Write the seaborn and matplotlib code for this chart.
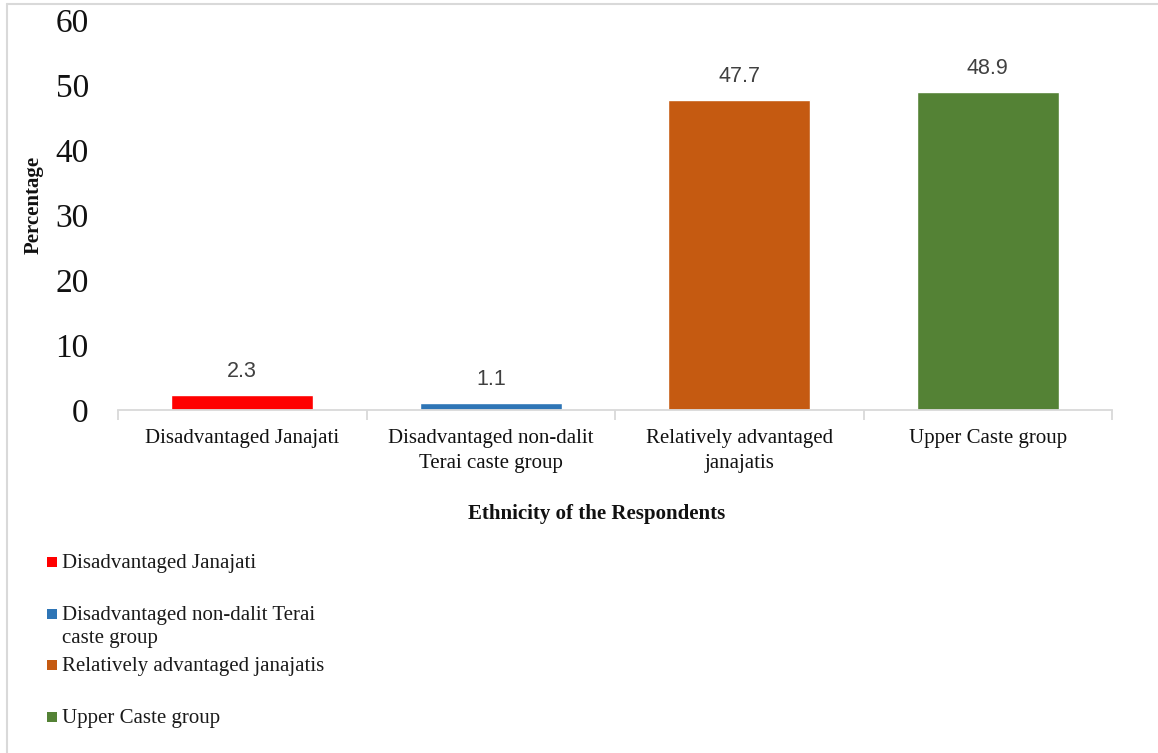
import matplotlib
matplotlib.use("Agg")
import matplotlib.pyplot as plt
import seaborn as sns
import pandas as pd
from matplotlib.patches import Rectangle
from matplotlib.lines import Line2D

# Share of respondents by ethnic group (percent)
categories = [
    "Disadvantaged Janajati",
    "Disadvantaged non-dalit Terai caste group",
    "Relatively advantaged janajatis",
    "Upper Caste group",
]
tick_labels = [
    "Disadvantaged Janajati",
    "Disadvantaged non-dalit\nTerai caste group",
    "Relatively advantaged\njanajatis",
    "Upper Caste group",
]
legend_labels = [
    "Disadvantaged Janajati",
    "Disadvantaged non-dalit Terai\ncaste group",
    "Relatively advantaged janajatis",
    "Upper Caste group",
]
percentages = [2.3, 1.1, 47.7, 48.9]
bar_colors = ["#FF0000", "#2E75B6", "#C55A11", "#548235"]
y_ticks = [0, 10, 20, 30, 40, 50, 60]

sns.set_style("white")
plt.rcParams["font.family"] = ["Liberation Serif", "DejaVu Serif"]

W, H = 1158, 753
fig = plt.figure(figsize=(W / 100, H / 100), dpi=100)


def fx(px):
    return px / W


def fy(py):
    return 1 - py / H


ax = fig.add_axes([fx(118), fy(410), fx(1112) - fx(118), fy(20) - fy(410)])

df = pd.DataFrame({"group": categories, "pct": percentages})
sns.barplot(data=df, x="group", y="pct", hue="group", palette=bar_colors,
            width=0.57, saturation=1, legend=False, ax=ax)

ax.set_xlim(-0.5, len(categories) - 0.5)
ax.set_ylim(0, 60)
ax.set_yticks(y_ticks)
ax.set_yticklabels([str(t) for t in y_ticks], fontsize=24, color="#111111")
ax.tick_params(axis="y", length=0, pad=21)

ax.set_xticks(range(len(categories)))
ax.set_xticklabels(tick_labels, fontsize=15, linespacing=1.4, color="#111111")
ax.tick_params(axis="x", which="major", length=0, pad=14)
ax.set_xticks([i - 0.5 for i in range(len(categories) + 1)], minor=True)
ax.tick_params(axis="x", which="minor", length=7, width=1.3, color="#D9D9D9",
               direction="out", bottom=True)

for side in ("left", "top", "right"):
    ax.spines[side].set_visible(False)
ax.spines["bottom"].set_color("#D9D9D9")
ax.spines["bottom"].set_linewidth(1.3)
ax.set_xlabel("")
ax.set_ylabel("")
ax.grid(False)

for container in ax.containers:
    ax.bar_label(container, fmt="%.1f", padding=9.5, fontsize=15.5,
                 color="#404040", family="Liberation Sans")

fig.text(fx(34), fy(205), "Percentage", rotation=90, ha="center", va="center",
         fontsize=15, fontweight="bold", color="#111111")
fig.text(fx(597), fy(514), "Ethnicity of the Respondents", ha="center",
         va="center", fontsize=15, fontweight="bold", color="#111111")

# Legend entries stacked below the chart; wrapped labels continue downward
line_gap = 23
for i, (lab, col) in enumerate(zip(legend_labels, bar_colors)):
    cy = 562 + i * 51.7
    fig.add_artist(Rectangle((fx(47), fy(cy + 5)), fx(57) - fx(47),
                             fy(cy - 5) - fy(cy + 5), transform=fig.transFigure,
                             facecolor=col, edgecolor="none"))
    for k, part in enumerate(lab.split("\n")):
        fig.text(fx(62), fy(cy + 6 + k * line_gap), part, ha="left",
                 va="baseline", fontsize=15, color="#1a1a1a")

# Thin frame around the figure
fig.add_artist(Line2D([fx(7), fx(7)], [0, fy(4)], color="#D9D9D9", lw=1.5,
                      transform=fig.transFigure))
fig.add_artist(Line2D([fx(7), 1], [fy(4), fy(4)], color="#D9D9D9", lw=1.5,
                      transform=fig.transFigure))

fig.savefig("out.png", dpi=100)
